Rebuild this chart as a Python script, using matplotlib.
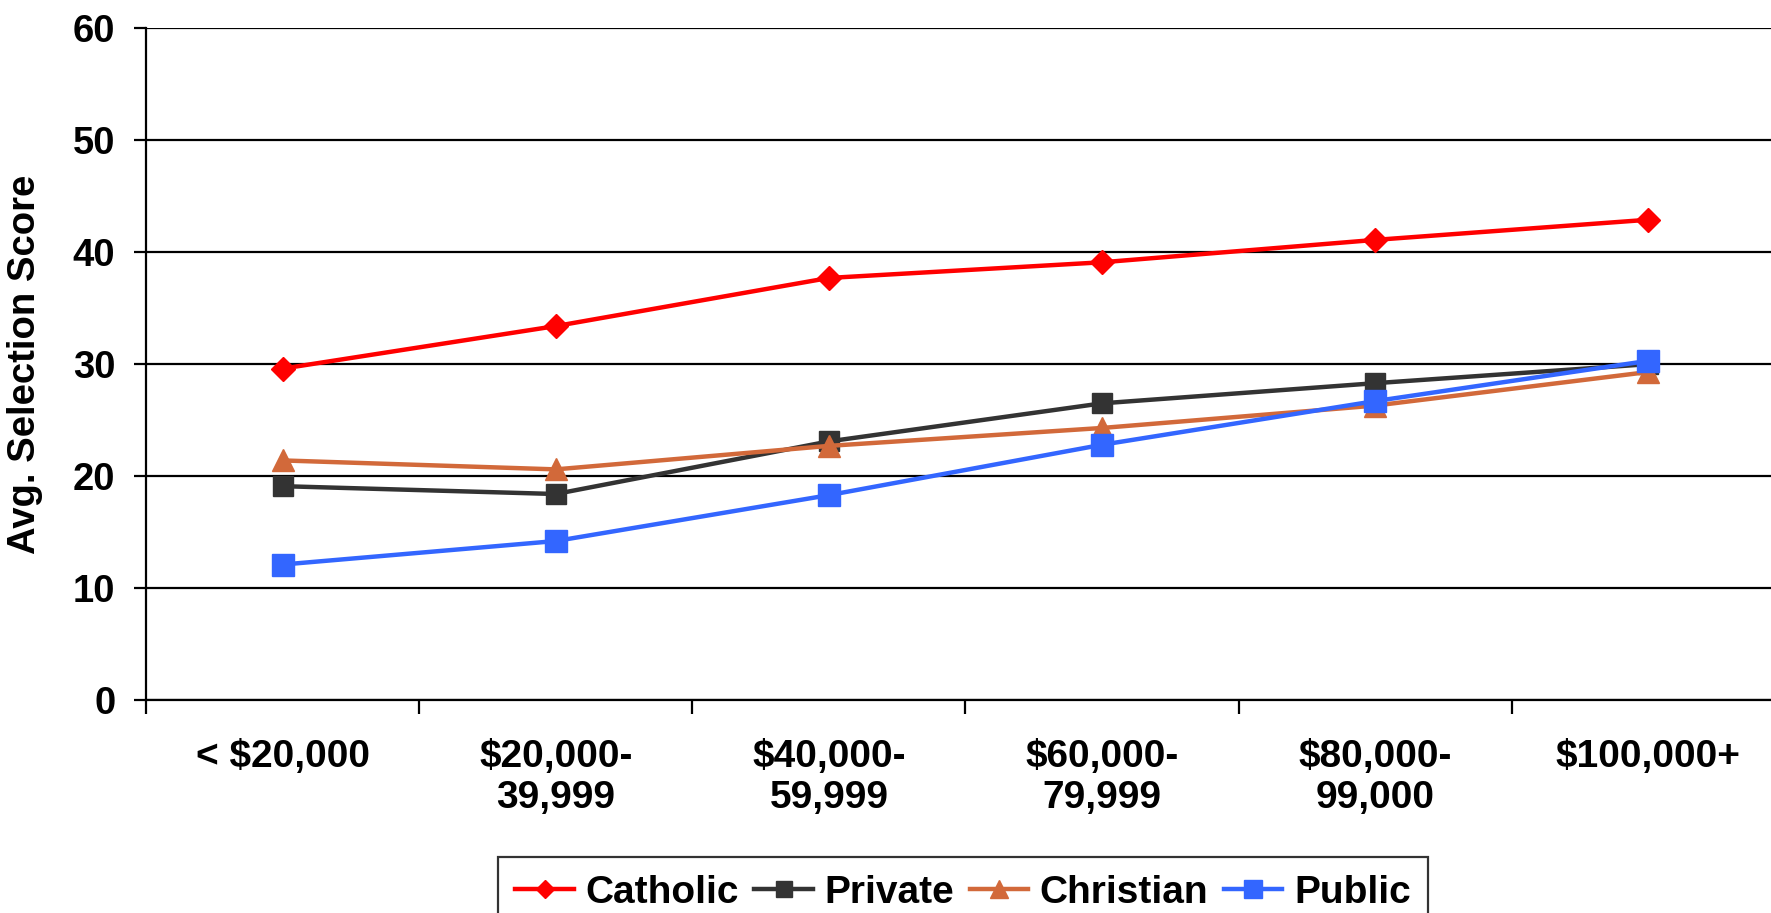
import matplotlib
matplotlib.use("Agg")
import matplotlib.pyplot as plt
import numpy as np

categories = ["< $20,000", "$20,000-\n39,999", "$40,000-\n59,999", "$60,000-\n79,999", "$80,000-\n99,000", "$100,000+"]
catholic = [29.6, 33.4, 37.7, 39.1, 41.1, 42.9]
private = [19.1, 18.4, 23.1, 26.5, 28.3, 30.0]
christian = [21.4, 20.6, 22.7, 24.3, 26.3, 29.3]
public = [12.1, 14.2, 18.3, 22.8, 26.7, 30.3]
yticks = [0, 10, 20, 30, 40, 50, 60]

plt.rcParams['font.family'] = ['Liberation Sans', 'DejaVu Sans']
plt.rcParams['font.weight'] = 'bold'

fig = plt.figure(figsize=(17.71, 9.13), dpi=100)
ax = fig.add_axes([146/1771, 1 - 700/913, (1785 - 146)/1771, (700 - 28.3)/913])

x = np.arange(len(categories))
series = [
    ("Catholic", catholic, "#FF0000", "D", 12),
    ("Private", private, "#333333", "s", 15),
    ("Christian", christian, "#D2693A", "^", 16.5),
    ("Public", public, "#3366FF", "s", 16.5),
]
for name, vals, col, mk, ms in series:
    ax.plot(x, vals, color=col, lw=3.2, marker=mk, markersize=ms,
            markerfacecolor=col, markeredgecolor=col, label=name, zorder=3, clip_on=False)

ax.set_xlim(-0.5, 5.5)
ax.set_ylim(0, 60)
ax.set_yticks(yticks)
ax.yaxis.grid(True, color='black', lw=1.6)
ax.set_axisbelow(True)
for s in ['top', 'right']:
    ax.spines[s].set_visible(False)
ax.spines['left'].set_linewidth(1.6)
ax.spines['bottom'].set_linewidth(1.6)

ax.tick_params(axis='y', length=9, width=1.6, pad=13, labelsize=27.5)
ax.set_xticks(x)
ax.set_xticklabels(categories, fontsize=28, fontweight='bold', va='top', linespacing=1.2)
ax.tick_params(axis='x', which='major', length=0, pad=28)
ax.set_xticks(np.arange(-0.5, 6.0, 1.0), minor=True)
ax.tick_params(axis='x', which='minor', length=10, width=1.6)

ax.set_ylabel("Avg. Selection Score", fontsize=27.5, fontweight='bold')
ax.yaxis.set_label_coords(-0.063, 0.5)

leg = fig.legend(loc='upper center', bbox_to_anchor=(963/1771, 1 - 857/913), ncol=4,
                 frameon=True, fancybox=False, edgecolor='black', fontsize=28,
                 handlelength=1.5, handletextpad=0.3, columnspacing=0.4, borderpad=0.45,
                 borderaxespad=0, markerscale=0.8)
leg.get_frame().set_linewidth(1.6)

fig.savefig("out.png", dpi=100)
